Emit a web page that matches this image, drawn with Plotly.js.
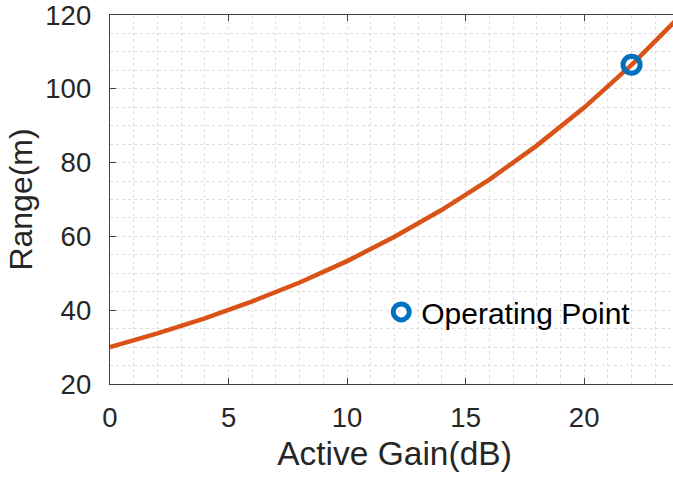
<!DOCTYPE html>
<html><head><meta charset="utf-8">
<script src="https://cdn.plot.ly/plotly-3.0.1.min.js"></script>
<style>html,body{margin:0;padding:0;overflow:hidden;background:#fff}#chart{width:680px;height:480px}</style>
</head><body><div id="chart"></div>
<script>
const gainDb = [0, 2, 4, 6, 8, 10, 12, 14, 16, 18, 20, 22, 24];
const rangeM = [30.0, 33.7, 37.8, 42.4, 47.5, 53.3, 59.9, 67.2, 75.4, 84.6, 94.9, 106.5, 119.4];
const opGain = [22];
const opRange = [106.5];
const xTickVals = [0, 5, 10, 15, 20];
const yTickVals = [20, 40, 60, 80, 100, 120];

const font = 'Liberation Sans, Arial, Helvetica, sans-serif';
const axisCommon = {
  showline: true, linecolor: '#404040', linewidth: 1.3, mirror: 'allticks',
  ticks: 'inside', ticklen: 6, tickcolor: '#404040', tickwidth: 1,
  showgrid: true, gridcolor: '#dedede', griddash: 'dot', gridwidth: 1,
  zeroline: false, ticklabeloverflow: 'allow',
  tickfont: {family: font, size: 27.5, color: '#262626'}
};
const traces = [
  {x: gainDb, y: rangeM, mode: 'lines', line: {color: '#D95319', width: 4.5}, showlegend: false, hoverinfo: 'skip'},
  {x: opGain, y: opRange, mode: 'markers', name: 'Operating Point',
   marker: {symbol: 'circle-open', size: 17, color: '#0072BD', line: {width: 5, color: '#0072BD'}}}
];
const layout = {
  width: 680, height: 480,
  margin: {l: 110, r: 1, t: 15, b: 96},
  paper_bgcolor: '#fff', plot_bgcolor: '#fff',
  xaxis: Object.assign({}, axisCommon, {
    range: [0, 24], tickvals: xTickVals, ticktext: xTickVals.map(String),
    ticklabelstandoff: 9,
    minor: {dtick: 1, tick0: 0, showgrid: true, gridcolor: '#dedede', griddash: 'dot', ticks: ''},
    title: {text: 'Active Gain(dB)', font: {family: font, size: 33.5, color: '#262626'}, standoff: 9}
  }),
  yaxis: Object.assign({}, axisCommon, {
    range: [20, 120], tickvals: yTickVals, ticktext: yTickVals.map(String),
    ticklabelstandoff: 12,
    minor: {dtick: 5, tick0: 0, showgrid: true, gridcolor: '#dedede', griddash: 'dot', ticks: ''},
    title: {text: 'Range(m)', font: {family: font, size: 32, color: '#262626'}, standoff: 3}
  }),
  legend: {x: 0.4767, y: 0.1954, xanchor: 'left', yanchor: 'middle', bgcolor: 'rgba(0,0,0,0)',
           borderwidth: 0, font: {family: font, size: 30, color: '#000'}},
  showlegend: true
};
Plotly.newPlot('chart', traces, layout, {displayModeBar: false, staticPlot: true});
</script></body></html>
